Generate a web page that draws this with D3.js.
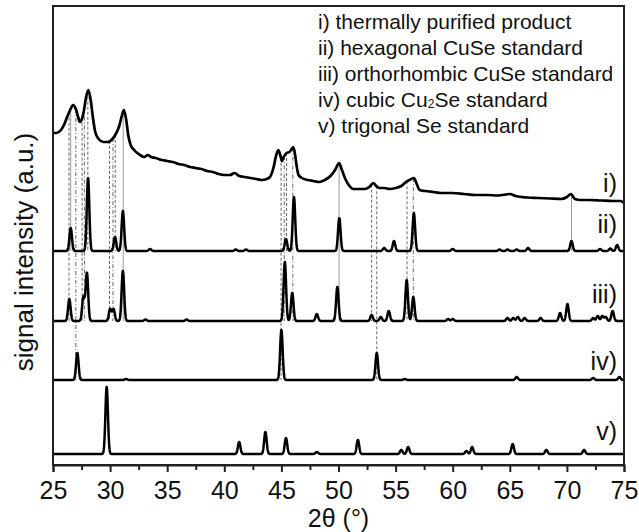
<!DOCTYPE html>
<html><head><meta charset="utf-8">
<script src="https://cdn.jsdelivr.net/npm/d3@7"></script>
<style>
body{margin:0;background:#fff}
svg{display:block}
text{font-family:"Liberation Sans",Arial,Helvetica,sans-serif;fill:#111}
</style>
</head><body>
<svg id="c" width="639" height="532"></svg>
<script>
// ---------------- DATA ----------------
const xMajorTicks = [25,30,35,40,45,50,55,60,65,70,75];
const xMinorTicks = [27.5,32.5,37.5,42.5,47.5,52.5,57.5,62.5,67.5,72.5];

// i) thermally purified product (measured pattern, a.u.)
const expAngles = [25.0,25.3,25.7,26.0,26.2,26.5,26.75,27.0,27.2,27.35,27.5,27.7,27.9,28.1,28.3,28.5,28.7,29.0,29.4,29.8,30.2,30.5,30.8,31.0,31.2,31.4,31.6,31.8,32.1,32.5,33.0,33.3,33.6,34.0,34.5,35.0,35.5,36.0,36.5,37.0,37.5,38.0,38.5,39.0,39.5,40.0,40.5,40.9,41.3,41.8,42.3,42.8,43.3,43.7,44.0,44.3,44.55,44.73,44.9,45.05,45.2,45.45,45.7,45.9,46.05,46.2,46.35,46.5,46.8,47.3,47.8,48.3,48.8,49.3,49.7,50.05,50.3,50.6,50.9,51.3,51.8,52.3,52.7,53.05,53.3,53.6,54.0,54.5,55.0,55.5,55.9,56.2,56.6,56.85,57.1,57.6,58.3,59,60,61,62,63,64,65,65.5,66.5,67.5,68.5,69.5,70.0,70.35,70.7,71.2,72,73,74,74.7,75];
const expIntensity = [332,332,335,341,347,355,360,356,348,343,345,354,368,375,365,347,333,326,323,323,326,331,339,348,355,346,329,320,315,311,308,310,308,307,305,304,303,301,300,298,297,296,294,293,291,290,290,292,289,288,287,286,285,286,288,297,310,315,310,304,308,312,313,316,318,310,298,290,287,285,284,283,285,289,295,302,295,286,280,276,276,276,278,282,279,277,277,276,277,279,283,285,287,281,275,274,273,272,272,271,270,270,269.5,271,269,267.5,267,266.5,266,268,271,266,265,265,264.5,264,264,262];

// ii) hexagonal CuSe standard
const hexAngles  = [26.55,28.07,30.43,31.12,33.5,41.0,41.9,45.4,46.1,50.07,54.0,54.86,56.6,60.0,64.1,64.8,65.6,66.6,70.4,72.9,73.8,74.4];
const hexHeights = [23,73,14,40,2,1.5,1.5,12,54,33,3,10,38,2,1.5,1.5,1.5,3,10,2,2.5,6];

// iii) orthorhombic CuSe standard
const orthoAngles  = [26.43,27.66,27.97,30.0,30.3,31.12,33.1,36.7,45.3,45.95,48.1,49.9,52.9,53.7,54.4,55.97,56.55,59.6,60.0,64.8,65.3,65.7,66.3,67.7,69.4,70.05,72.3,72.7,73.1,73.4,74.0];
const orthoHeights = [22,24,48,12,12,50,1.5,1.5,59,28,7,34,6,4,10,41,24,2,2,3,3,4,3,3,8,17,3,5,5,4,10];

// iv) cubic Cu2Se standard
const cubicAngles  = [27.13,31.4,45.0,53.35,55.8,65.6,72.3,74.6];
const cubicHeights = [27,1,50,27,1,3,2,3];

// v) trigonal Se standard
const trigAngles  = [29.7,41.3,43.6,45.4,48.1,51.7,55.5,56.1,61.2,61.7,65.25,68.2,71.5];
const trigHeights = [67,12,22,16,2,14,4,7,3,7,10,4,4];

// stacking offsets of the standards (a.u.)
const seriesNames   = ["ii)","iii)","iv)","v)"];
const seriesOffsets = [214,144,85,11];

// guide lines linking the product peaks to the standards
const guideAngles  = [26.4,26.55,27.0,27.55,27.75,28.05,29.95,30.25,30.45,31.15,44.97,45.25,45.45,46.0,50.05,52.9,53.35,56.0,56.55,70.4];
const guideTargets = ["iii)","ii)","iv)","iii)","iii)","ii)","iii)","iii)","ii)","iii)","iv)","iii)","ii)","iii)","iii)","iii)","iv)","iii)","iii)","ii)"];

const legendLines = [
  ["i) thermally purified product"],
  ["ii) hexagonal CuSe standard"],
  ["iii) orthorhombic CuSe standard"],
  ["iv) cubic Cu","2","Se standard"],
  ["v) trigonal Se standard"]
];
const traceLabels = ["i)","ii)","iii)","iv)","v)"];

// ---------------- DRAW ----------------
const svg = d3.select("#c");
const L=53, R=624, T=6, B=465;
const x = d3.scaleLinear().domain([25,75]).range([L,R]);
const y = d3.scaleLinear().domain([0,459]).range([B,T]);

svg.append("defs").append("clipPath").attr("id","pc")
  .append("rect").attr("x",L).attr("y",T).attr("width",R-L).attr("height",B-T);

const g = svg.append("g").attr("clip-path","url(#pc)");

const standards = [
  {a:hexAngles,h:hexHeights},
  {a:orthoAngles,h:orthoHeights},
  {a:cubicAngles,h:cubicHeights},
  {a:trigAngles,h:trigHeights}
];

// experimental curve value at an angle (where each guide starts)
function expAt(t){
  const i = Math.max(1, d3.bisectLeft(expAngles, t));
  const a0=expAngles[i-1], a1=expAngles[i], v0=expIntensity[i-1], v1=expIntensity[i];
  return v0 + (v1-v0)*(t-a0)/(a1-a0);
}

// guides
const guideDash = ["3,2","","4,2,1,2","3,2","4,2,1,2","3,2","3,2","4,2,1,2","3,2","","3,2","4,2,1,2","3,2","4,2,1,2","","3,2","3,2","3,2","4,2,1,2",""];
guideAngles.forEach((t,i)=>{
  const off = seriesOffsets[seriesNames.indexOf(guideTargets[i])];
  g.append("line")
    .attr("x1",x(t)).attr("x2",x(t))
    .attr("y1",y(expAt(t))).attr("y2",y(off))
    .attr("stroke", guideDash[i]==="" ? "#9a9a9a" : "#666")
    .attr("stroke-width",1)
    .attr("stroke-dasharray",guideDash[i]||null);
});

// standard patterns: each listed peak drawn as a narrow profile on its offset baseline
const sigma = 0.11;
const grid = d3.range(25, 75.0001, 0.02);
standards.forEach((s,k)=>{
  const off = seriesOffsets[k];
  const pts = grid.map(t=>{
    let v=0;
    for(let j=0;j<s.a.length;j++){
      const d=(t-s.a[j])/sigma;
      if(Math.abs(d)<6) v += s.h[j]*Math.exp(-0.5*d*d);
    }
    return [t, off+v];
  });
  g.append("path")
    .attr("d", d3.line().x(d=>x(d[0])).y(d=>y(d[1]))(pts))
    .attr("fill","none").attr("stroke","#000").attr("stroke-width",2.5)
    .attr("stroke-linejoin","round");
});

// experimental curve
g.append("path")
  .attr("d", d3.line().x((d,i)=>x(expAngles[i])).y((d,i)=>y(expIntensity[i])).curve(d3.curveMonotoneX)(expAngles))
  .attr("fill","none").attr("stroke","#000").attr("stroke-width",2.7)
  .attr("stroke-linejoin","round");

// frame
svg.append("rect").attr("x",L).attr("y",T).attr("width",R-L).attr("height",B-T)
  .attr("fill","none").attr("stroke","#222").attr("stroke-width",2);

// x axis
const ax = svg.append("g").attr("transform",`translate(0,${B})`)
  .call(d3.axisBottom(x).tickValues(xMajorTicks).tickSize(7).tickPadding(9).tickFormat(d3.format("d")));
ax.select(".domain").attr("stroke","#222").attr("stroke-width",2);
ax.selectAll(".tick line").attr("stroke","#222").attr("stroke-width",2);
ax.selectAll(".tick text").style("font-size","25px").attr("fill","#111")
  .style("font-family",'"Liberation Sans",Arial,sans-serif');
const axm = svg.append("g").attr("transform",`translate(0,${B})`)
  .call(d3.axisBottom(x).tickValues(xMinorTicks).tickSize(5).tickFormat(""));
axm.select(".domain").remove();
axm.selectAll(".tick line").attr("stroke","#222").attr("stroke-width",2);

// axis titles
svg.append("text").attr("x",(L+R)/2).attr("y",527).attr("text-anchor","middle")
  .style("font-size","25px").text("2θ (°)");
svg.append("text").attr("transform","translate(33,252) rotate(-90)").attr("text-anchor","middle")
  .style("font-size","26px").text("signal intensity (a.u.)");

// legend
const legY = [29,55,81,107,133];
legendLines.forEach((parts,i)=>{
  const t = svg.append("text").attr("x",318).attr("y",legY[i]).style("font-size","21px");
  if(parts.length===1){ t.text(parts[0]); }
  else{
    t.append("tspan").text(parts[0]);
    t.append("tspan").text(parts[1]).style("font-size","12px").attr("dy",1);
    t.append("tspan").text(parts[2]).attr("dy",-1);
  }
});

// trace labels
const labY = [192,233,303,370,440];
traceLabels.forEach((s,i)=>{
  svg.append("text").attr("x",617).attr("y",labY[i]).attr("text-anchor","end")
    .style("font-size","25px").text(s);
});
</script>
</body></html>
